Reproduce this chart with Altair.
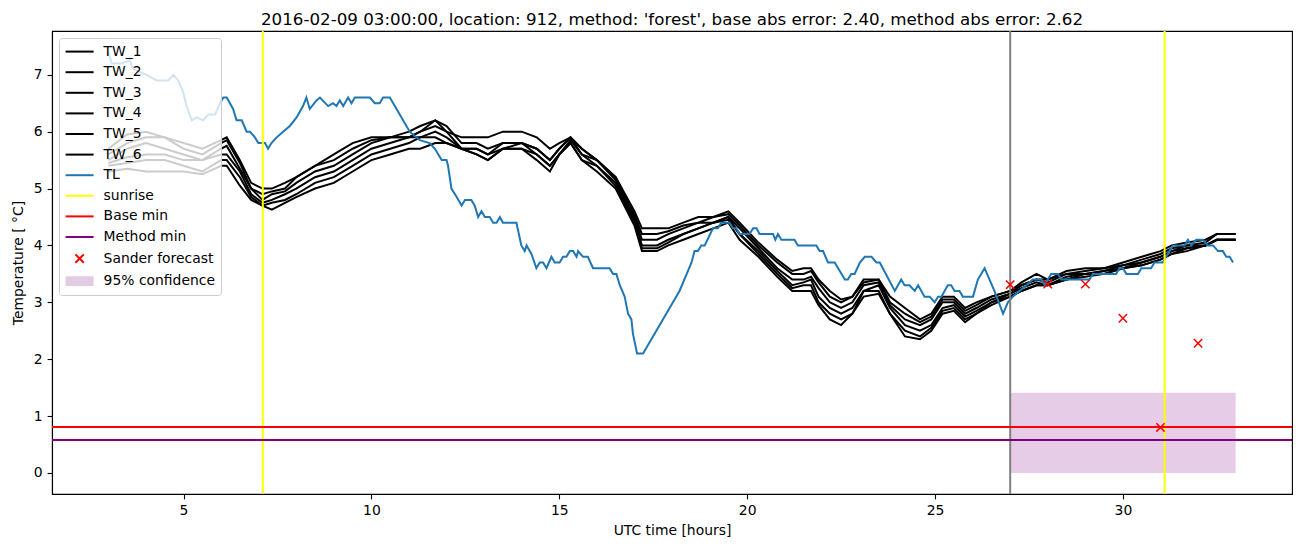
import altair as alt
import pandas as pd

title_text = "2016-02-09 03:00:00, location: 912, method: 'forest', base abs error: 2.40, method abs error: 2.62"

# ---- TL (blue) series ----
tl_hours = [3.00, 3.09, 3.35, 3.57, 3.66, 4.02, 4.28, 4.59, 4.73, 4.86,
            4.99, 5.08, 5.22, 5.35, 5.52, 5.66, 5.84, 5.97, 6.06, 6.15,
            6.32, 6.41, 6.55, 6.68, 6.77, 6.90, 6.99, 7.17, 7.25, 7.34,
            7.48, 7.65, 7.83, 8.01, 8.18, 8.27, 8.36, 8.54, 8.63, 8.85,
            8.98, 9.07, 9.16, 9.25, 9.38, 9.47, 9.56, 9.96, 10.09, 10.22,
            10.31, 10.49, 10.58, 11.02, 11.11, 11.29, 11.55, 11.69, 11.87, 12.00,
            12.04, 12.13, 12.27, 12.40, 12.49, 12.66, 12.75, 12.84, 12.93, 13.02,
            13.15, 13.24, 13.33, 13.42, 13.50, 13.86, 13.99, 14.08, 14.13, 14.26,
            14.39, 14.48, 14.57, 14.66, 14.79, 14.88, 15.01, 15.10, 15.19, 15.28,
            15.37, 15.46, 15.50, 15.63, 15.76, 15.90, 16.34, 16.43, 16.52, 16.61,
            16.74, 16.83, 16.92, 16.96, 17.07, 17.23, 18.20, 18.52, 18.60, 18.69,
            18.78, 18.87, 19.09, 19.22, 19.31, 19.53, 19.62, 19.71, 19.80, 20.06,
            20.16, 20.25, 20.33, 20.69, 20.75, 20.82, 20.91, 21.26, 21.35, 21.84,
            21.93, 22.02, 22.15, 22.33, 22.60, 22.68, 22.77, 22.86, 23.00, 23.13,
            23.31, 23.44, 23.53, 23.93, 24.10, 24.19, 24.32, 24.46, 24.55, 24.72,
            24.86, 24.99, 25.08, 25.17, 25.34, 25.43, 25.52, 25.65, 25.74, 26.01,
            26.14, 26.32, 26.45, 26.58, 26.81, 26.94, 27.07, 27.25, 27.43, 27.60,
            27.83, 27.92, 28.00, 28.09, 28.27, 28.36, 29.11, 29.20, 29.82, 29.91,
            30.00, 30.09, 30.40, 30.49, 30.75, 30.84, 31.06, 31.15, 31.24, 31.33,
            31.64, 31.73, 31.82, 31.95, 32.13, 32.26, 32.40, 32.53, 32.66, 32.75,
            32.84, 32.93]
tl_temp = [7.4, 7.2, 7.2, 7.25, 7.1, 7.0, 6.9, 6.9, 7.0, 6.9,
           6.7, 6.45, 6.2, 6.25, 6.2, 6.3, 6.3, 6.5, 6.6, 6.6,
           6.4, 6.2, 6.2, 6.0, 6.0, 5.9, 5.8, 5.8, 5.7, 5.8,
           5.9, 6.0, 6.1, 6.25, 6.45, 6.6, 6.4, 6.55, 6.6, 6.45,
           6.5, 6.45, 6.55, 6.45, 6.6, 6.5, 6.6, 6.6, 6.5, 6.5,
           6.6, 6.6, 6.5, 6.0, 5.95, 5.85, 5.8, 5.7, 5.5, 5.5,
           5.4, 5.0, 4.85, 4.7, 4.8, 4.8, 4.7, 4.5, 4.6, 4.5,
           4.5, 4.4, 4.4, 4.5, 4.4, 4.4, 4.0, 3.9, 4.0, 3.85,
           3.6, 3.7, 3.7, 3.6, 3.8, 3.7, 3.7, 3.8, 3.8, 3.9,
           3.9, 3.8, 3.9, 3.8, 3.8, 3.6, 3.6, 3.5, 3.5, 3.3,
           3.1, 2.8, 2.7, 2.45, 2.1, 2.1, 3.2, 3.7, 3.9, 3.9,
           4.0, 4.0, 4.3, 4.3, 4.4, 4.4, 4.3, 4.3, 4.2, 4.2,
           4.3, 4.3, 4.2, 4.2, 4.1, 4.2, 4.1, 4.1, 4.0, 4.0,
           3.9, 3.9, 3.7, 3.7, 3.4, 3.4, 3.5, 3.5, 3.7, 3.8,
           3.8, 3.7, 3.7, 3.2, 3.4, 3.3, 3.3, 3.2, 3.3, 3.1,
           3.1, 3.0, 3.1, 3.1, 3.3, 3.3, 3.2, 3.2, 3.1, 3.1,
           3.4, 3.6, 3.4, 3.2, 2.8, 3.0, 3.1, 3.2, 3.3, 3.4,
           3.4, 3.3, 3.4, 3.5, 3.5, 3.4, 3.4, 3.5, 3.5, 3.6,
           3.6, 3.5, 3.5, 3.6, 3.6, 3.7, 3.7, 3.8, 3.9, 4.0,
           4.0, 4.1, 4.0, 4.1, 4.1, 4.0, 4.0, 3.9, 3.9, 3.8,
           3.8, 3.7]
assert len(tl_hours) == len(tl_temp)

# ---- TW_1 .. TW_6 (black) series ----
tw_names = ["TW_1", "TW_2", "TW_3", "TW_4", "TW_5", "TW_6"]
tw_hours = [3.0, 3.5, 4.0, 4.5, 5.0, 5.5, 6.0, 6.15, 6.5, 6.8,
            7.1, 7.35, 7.7, 8.0, 8.5, 9.0, 9.5, 10.0, 10.5, 11.0,
            11.3, 11.7, 12.0, 12.4, 12.8, 13.1, 13.5, 14.0, 14.4, 14.75,
            15.0, 15.3, 15.6, 16.0, 16.5, 17.0, 17.2, 17.6, 17.9, 18.3,
            18.7, 19.1, 19.5, 19.8, 20.3, 20.8, 21.2, 21.5, 21.7, 21.9,
            22.2, 22.5, 22.8, 23.1, 23.5, 23.8, 24.2, 24.6, 24.9, 25.2,
            25.5, 25.8, 26.1, 26.5, 27.0, 27.3, 27.7, 28.0, 28.5, 29.0,
            29.5, 30.0, 30.5, 31.0, 31.3, 31.7, 32.2, 32.5, 33.0]
# one row per time step: values of TW_1 ... TW_6
tw_rows = [
    [5.7, 5.6, 5.5, 5.45, 5.4, 5.3], [5.95, 5.8, 5.7, 5.55, 5.45, 5.35],
    [6.0, 5.9, 5.8, 5.6, 5.5, 5.3], [5.9, 5.9, 5.7, 5.6, 5.5, 5.3],
    [5.8, 5.7, 5.6, 5.5, 5.4, 5.3], [5.7, 5.6, 5.5, 5.5, 5.3, 5.25],
    [5.85, 5.8, 5.7, 5.6, 5.5, 5.4], [5.9, 5.85, 5.75, 5.6, 5.5, 5.4],
    [5.5, 5.45, 5.35, 5.3, 5.2, 5.05], [5.1, 5.0, 5.0, 4.9, 4.85, 4.8],
    [5.0, 4.9, 4.8, 4.75, 4.7, 4.7], [5.0, 4.95, 4.9, 4.8, 4.75, 4.63],
    [5.1, 5.0, 4.95, 4.9, 4.8, 4.75], [5.2, 5.2, 5.1, 5.0, 4.9, 4.85],
    [5.4, 5.4, 5.3, 5.2, 5.1, 5.0], [5.6, 5.5, 5.4, 5.3, 5.2, 5.1],
    [5.8, 5.7, 5.6, 5.5, 5.4, 5.3], [5.9, 5.85, 5.8, 5.7, 5.6, 5.5],
    [5.9, 5.9, 5.9, 5.8, 5.7, 5.6], [6.0, 5.9, 5.9, 5.9, 5.8, 5.7],
    [6.1, 6.0, 6.0, 5.9, 5.9, 5.7], [6.2, 6.2, 6.1, 6.0, 5.9, 5.8],
    [6.0, 6.1, 6.0, 5.9, 5.8, 5.8], [5.9, 5.8, 5.7, 5.7, 5.7, 5.7],
    [5.9, 5.8, 5.7, 5.7, 5.6, 5.6], [5.9, 5.7, 5.6, 5.6, 5.5, 5.5],
    [6.0, 5.8, 5.8, 5.7, 5.7, 5.7], [6.0, 5.8, 5.8, 5.8, 5.7, 5.7],
    [5.9, 5.7, 5.7, 5.6, 5.6, 5.5], [5.7, 5.5, 5.5, 5.4, 5.4, 5.3],
    [5.8, 5.7, 5.7, 5.6, 5.6, 5.6], [5.9, 5.9, 5.9, 5.85, 5.8, 5.8],
    [5.7, 5.7, 5.6, 5.6, 5.5, 5.5], [5.5, 5.5, 5.5, 5.4, 5.4, 5.3],
    [5.2, 5.2, 5.15, 5.1, 5.05, 5.0], [4.6, 4.55, 4.5, 4.45, 4.4, 4.35],
    [4.3, 4.2, 4.1, 4.0, 3.95, 3.9], [4.3, 4.2, 4.1, 4.0, 3.95, 3.9],
    [4.3, 4.25, 4.2, 4.1, 4.05, 4.0], [4.4, 4.35, 4.3, 4.2, 4.2, 4.1],
    [4.5, 4.4, 4.4, 4.3, 4.3, 4.2], [4.5, 4.5, 4.4, 4.4, 4.4, 4.3],
    [4.6, 4.55, 4.5, 4.5, 4.45, 4.4], [4.4, 4.35, 4.3, 4.2, 4.2, 4.1],
    [4.05, 4.0, 3.95, 3.9, 3.85, 3.8], [3.75, 3.7, 3.6, 3.55, 3.5, 3.45],
    [3.55, 3.5, 3.4, 3.3, 3.25, 3.2], [3.6, 3.5, 3.4, 3.35, 3.3, 3.2],
    [3.6, 3.55, 3.45, 3.4, 3.3, 3.2], [3.4, 3.35, 3.25, 3.1, 3.0, 2.95],
    [3.2, 3.1, 3.0, 2.9, 2.8, 2.7], [3.05, 3.0, 2.9, 2.8, 2.7, 2.6],
    [3.1, 3.1, 3.0, 2.9, 2.8, 2.8], [3.4, 3.35, 3.3, 3.2, 3.2, 3.1],
    [3.4, 3.4, 3.35, 3.3, 3.2, 3.15], [3.1, 3.0, 2.95, 2.9, 2.8, 2.8],
    [2.9, 2.8, 2.7, 2.6, 2.5, 2.4], [2.7, 2.65, 2.6, 2.5, 2.4, 2.35],
    [2.8, 2.75, 2.7, 2.6, 2.55, 2.5], [3.1, 3.05, 3.0, 2.9, 2.85, 2.8],
    [3.1, 3.05, 3.0, 2.95, 2.9, 2.85], [2.9, 2.85, 2.8, 2.75, 2.7, 2.65],
    [3.0, 2.95, 2.9, 2.85, 2.8, 2.8], [3.1, 3.1, 3.05, 3.0, 3.0, 2.95],
    [3.2, 3.2, 3.15, 3.15, 3.1, 3.1], [3.35, 3.3, 3.3, 3.25, 3.2, 3.2],
    [3.5, 3.4, 3.4, 3.35, 3.3, 3.3], [3.4, 3.4, 3.35, 3.3, 3.3, 3.3],
    [3.55, 3.5, 3.5, 3.45, 3.4, 3.4], [3.6, 3.55, 3.5, 3.5, 3.5, 3.45],
    [3.6, 3.6, 3.55, 3.55, 3.5, 3.5], [3.7, 3.65, 3.65, 3.6, 3.6, 3.6],
    [3.8, 3.75, 3.7, 3.7, 3.65, 3.65], [3.9, 3.85, 3.8, 3.8, 3.75, 3.75],
    [4.0, 3.95, 3.9, 3.9, 3.85, 3.85], [4.05, 4.0, 4.0, 3.95, 3.95, 3.9],
    [4.1, 4.05, 4.0, 4.0, 4.0, 4.0], [4.2, 4.2, 4.1, 4.1, 4.1, 4.1],
    [4.2, 4.2, 4.1, 4.1, 4.1, 4.1],
]
assert len(tw_hours) == len(tw_rows)

# ---- reference lines / forecast ----
sunrise_hours = [7.11, 31.11]
forecast_hour = [27.0]
base_min = [0.81]
method_min = [0.58]
sander_hours = [27, 28, 29, 30, 31, 32]
sander_temp = [3.31, 3.32, 3.32, 2.72, 0.80, 2.28]
conf_hours = [27.0, 33.0]
conf_temp = [0.0, 1.41]

legend_labels = ["TW_1", "TW_2", "TW_3", "TW_4", "TW_5", "TW_6", "TL", "sunrise",
                 "Base min", "Method min", "Sander forecast", "95% confidence"]
legend_colors = ["black"] * 6 + ["#1f77b4", "#ffff00", "#ff0000", "#800080", "#ff0000", "#e3cce3"]

# ---- symbol geometry (styling only) ----
LINE_PATH = "M-2,0L2,0"
CROSS_PATH = "M-0.6,-0.6L0.6,0.6M-0.6,0.6L0.6,-0.6"
PATCH_PATH = "".join(f"M-2,{(-0.55 + 0.11 * i):.2f}L2,{(-0.55 + 0.11 * i):.2f}" for i in range(11))
legend_shapes = [LINE_PATH] * 10 + [CROSS_PATH, PATCH_PATH]
X_MARK = "M-1,-1L1,1M-1,1L1,-1"

# ---- tables ----
tl_df = pd.DataFrame({"h": tl_hours, "v": tl_temp})
tw_df = pd.DataFrame(
    [{"h": h, "v": row[i], "series": name}
     for h, row in zip(tw_hours, tw_rows) for i, name in enumerate(tw_names)]
)
sun_df = pd.DataFrame({"h": sunrise_hours})
fc_df = pd.DataFrame({"h": forecast_hour})
base_df = pd.DataFrame({"v": base_min})
meth_df = pd.DataFrame({"v": method_min})
sander_df = pd.DataFrame({"h": sander_hours, "v": sander_temp})
conf_df = pd.DataFrame({"h": [conf_hours[0]], "h2": [conf_hours[1]],
                        "v": [conf_temp[0]], "v2": [conf_temp[1]]})
legend_df = pd.DataFrame({"label": legend_labels, "h": [-100.0] * len(legend_labels),
                          "v": [0.0] * len(legend_labels)})

FONT = "DejaVu Sans"
x_scale = alt.Scale(domain=[1.5, 34.5], nice=False, zero=False)
y_scale = alt.Scale(domain=[-0.37, 7.77], nice=False, zero=False)
X = alt.X("h:Q", scale=x_scale,
          axis=alt.Axis(values=[5, 10, 15, 20, 25, 30], format="d", title="UTC time [hours]"))
Y = alt.Y("v:Q", scale=y_scale,
          axis=alt.Axis(values=[0, 1, 2, 3, 4, 5, 6, 7], format="d",
                        title="Temperature [ °C]", titlePadding=8))

conf = alt.Chart(conf_df).mark_rect(color="#800080", opacity=0.2).encode(
    x=X, x2="h2:Q", y=Y, y2="v2:Q")

tw = alt.Chart(tw_df).mark_line(color="black", strokeWidth=2).encode(
    x="h:Q", y="v:Q", detail="series:N")

tl = alt.Chart(tl_df).mark_line(color="#1f77b4", strokeWidth=2).encode(x="h:Q", y="v:Q")

sun = alt.Chart(sun_df).mark_rule(color="#ffff00", strokeWidth=2).encode(x="h:Q")
fc = alt.Chart(fc_df).mark_rule(color="#808080", strokeWidth=2).encode(x="h:Q")
base = alt.Chart(base_df).mark_rule(color="#ff0000", strokeWidth=2).encode(y="v:Q")
meth = alt.Chart(meth_df).mark_rule(color="#800080", strokeWidth=2).encode(y="v:Q")

sander = alt.Chart(sander_df).mark_point(
    shape=X_MARK, size=70, filled=False, color="#ff0000", strokeWidth=1.5, opacity=1
).encode(x="h:Q", y="v:Q")

legend_props = dict(
    title=None, orient="top-left", offset=7, padding=5.6,
    fillColor="rgba(255,255,255,0.8)", strokeColor="#cccccc", cornerRadius=3,
    labelFont=FONT, labelFontSize=13.9, labelColor="black",
    symbolSize=196, symbolStrokeWidth=2, symbolOffset=7, labelOffset=16,
    rowPadding=5.6, symbolLimit=0, labelLimit=300,
)
legend_layer = alt.Chart(legend_df).mark_point(
    clip=True, filled=False, strokeWidth=2, size=196, opacity=1
).encode(
    x="h:Q", y="v:Q",
    color=alt.Color("label:N", scale=alt.Scale(domain=legend_labels, range=legend_colors),
                    legend=alt.Legend(**legend_props)),
    shape=alt.Shape("label:N", scale=alt.Scale(domain=legend_labels, range=legend_shapes),
                    legend=alt.Legend(**legend_props)),
)

chart = alt.layer(conf, tw, tl, sun, fc, base, meth, sander, legend_layer).properties(
    width=1240, height=463,
    autosize=alt.AutoSizeParams(type="none"),
    padding={"left": 44, "top": 23, "right": 2, "bottom": 45},
    title=alt.TitleParams(title_text, font=FONT, fontSize=16.7, fontWeight="normal",
                          color="black", anchor="middle", offset=1.5),
).configure(font=FONT).configure_view(
    stroke="black", strokeWidth=1.1
).configure_axis(
    grid=False, domainColor="black", domainWidth=1.1, tickColor="black", tickWidth=1.1,
    tickSize=4.9, labelPadding=4.9, labelColor="black", titleColor="black",
    labelFont=FONT, titleFont=FONT, labelFontSize=13.9, titleFontSize=13.9,
    titleFontWeight="normal", titlePadding=5.6,
)

chart.save("out.html", embed_options={"renderer": "svg", "actions": False})
